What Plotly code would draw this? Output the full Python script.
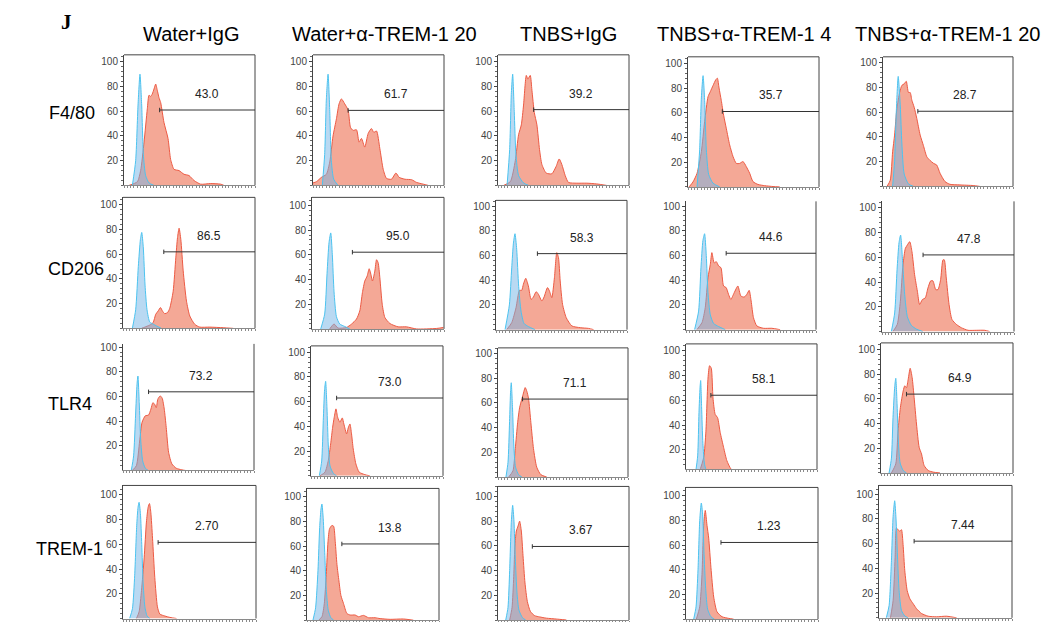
import plotly.graph_objects as go

# ---------------- data ----------------
columns = ["Water+IgG", "Water+α-TREM-1 20", "TNBS+IgG", "TNBS+α-TREM-1 4", "TNBS+α-TREM-1 20"]
markers = ["F4/80", "CD206", "TLR4", "TREM-1"]

# F4/80 row: isotype (blue) and stained (red) histograms, one list per column
f480_iso_x = [[6.4, 8.9, 10.7, 12.2, 13.5, 14.8, 16.5, 19.1, 22.9],
              [7.1, 8.9, 10.2, 11.5, 12.8, 14.0, 15.8, 19.1],
              [6.9, 8.9, 10.2, 11.2, 12.4, 13.7, 15.7, 19.5, 23.4],
              [6.9, 8.9, 10.2, 11.5, 12.7, 14.0, 15.8, 19.1, 24.2],
              [7.4, 8.9, 10.2, 11.7, 13.3, 14.5, 16.3, 19.6, 23.5]]
f480_iso_y = [[0, 20, 65, 90, 65, 25, 8, 2, 0],
              [0, 25, 70, 90, 60, 20, 5, 0],
              [0, 29, 75, 90, 60, 25, 8, 2, 0],
              [0, 30, 72, 90, 70, 30, 10, 3, 0],
              [0, 20, 60, 89, 65, 35, 10, 2, 0]]
f480_stain_x = [[3.8, 10.2, 12.7, 15.3, 17.8, 19.1, 20.4, 21.6, 22.9, 24.2, 25.4, 26.7, 28.0, 30.5, 33.6, 35.6, 38.2, 42.0, 45.8, 49.6, 53.4, 58.5, 66.2, 73.8, 76.3],
                [0, 2.6, 6.4, 10.2, 12.8, 15.3, 17.9, 19.9, 21.7, 24.2, 26.8, 28.6, 30.6, 33.2, 35.2, 37.0, 39.5, 42.1, 44.6, 46.4, 48.5, 51.0, 53.6, 56.1, 59.9, 63.3, 65.8, 70.2, 75.3, 79.1, 84.2, 88],
                [4.3, 9.4, 13.2, 15.7, 17.8, 19.5, 21.6, 22.8, 24.6, 25.9, 27.7, 29.7, 31.7, 33.5, 36.8, 41.1, 44.4, 46.7, 48.7, 51.3, 53.8, 60.2, 67.8, 75.4, 83],
                [0.8, 3.8, 6.9, 10.2, 12.7, 15.3, 17.0, 19.1, 21.1, 22.4, 23.7, 25.4, 27.2, 29.3, 31.8, 34.4, 36.9, 39.4, 42.0, 44.5, 47.1, 49.6, 53.4, 58.5, 64.9, 70],
                [3.1, 5.6, 7.4, 8.9, 10.7, 12.8, 14.5, 16.3, 17.9, 19.6, 20.9, 22.2, 24.0, 26.0, 28.6, 31.1, 33.7, 36.2, 38.8, 41.3, 43.9, 47.7, 51.5, 59.2, 69.4, 74.5]]
f480_stain_y = [[0, 3, 12, 35, 62, 73, 72, 74, 78, 82, 77, 71, 67, 51, 38, 21, 13, 12, 9, 8, 4, 1, 1.5, 1, 0],
                [2, 3, 6.5, 9, 19, 40, 54, 66, 70, 66, 61, 47, 44.5, 45, 35, 38, 31, 42, 46, 43, 44, 30, 13, 5.7, 5, 10, 6.5, 5, 4.6, 2.4, 1, 0],
                [0, 3, 20, 41, 49, 65, 89, 86, 89, 77, 59, 49, 29, 17, 10, 9.4, 15.4, 21.4, 17, 8, 2.4, 1.8, 1.8, 1.2, 0],
                [0, 4, 11, 28.5, 53, 73, 77, 82, 86.5, 88, 80, 70, 58, 47, 34, 24.5, 19, 19, 20.5, 16.4, 11, 4.3, 2, 1, 0.3, 0],
                [0, 5, 28, 41.5, 63, 76, 81.7, 83, 85, 76, 76, 69.7, 64, 55, 41.5, 33, 24, 21, 18.7, 17.3, 10.6, 3.9, 1.7, 1.2, 0.7, 0]]
f480_gate_x = [27.2, 26.8, 27.2, 26.2, 26.8]
f480_gate_y = [61.0, 60.7, 61.3, 61.0, 60.8]
f480_pct = ["43.0", "61.7", "39.2", "35.7", "28.7"]

# CD206 row
cd206_iso_x = [[7.1, 9.6, 11.6, 13.2, 14.2, 15.4, 16.7, 18.2, 20.3, 22.8, 25.3, 29.1],
               [6.6, 9.6, 11.4, 12.9, 14.2, 15.4, 16.7, 18.5, 21.0, 24.8, 28.6],
               [6.9, 10.2, 12.0, 13.3, 14.5, 15.8, 17.3, 19.1, 21.4, 24.7, 29.8],
               [6.6, 9.7, 11.5, 13.0, 14.3, 15.6, 16.9, 18.7, 21.2, 25.1, 30.2],
               [7.1, 9.6, 11.4, 12.9, 14.1, 15.7, 17.2, 19.2, 22.2, 26.0, 31.0]]
cd206_iso_y = [[0, 15, 50, 72, 77.6, 65, 35, 15, 5, 3.5, 2, 0],
               [0, 12, 45, 70, 77.7, 60, 30, 10, 4, 2, 0],
               [0, 20, 50, 70, 77.6, 65, 35, 15, 5, 2.5, 0],
               [0, 15, 50, 72, 77.6, 60, 30, 12, 5, 2.5, 0],
               [0, 15, 50, 72, 78, 55, 30, 12, 5, 2, 0]]
cd206_stain_x = [[14.0, 16.5, 20.3, 22.8, 24.8, 26.6, 28.4, 29.9, 31.6, 33.7, 35.4, 38.0, 40.0, 41.3, 42.5, 43.8, 45.6, 48.1, 50.6, 54.4, 58.2, 65.8, 75.9, 83.5],
                 [13.4, 16.7, 19.7, 26.1, 29.9, 33.7, 36.2, 38.2, 40.0, 41.8, 43.3, 44.6, 45.8, 47.6, 48.9, 50.1, 51.4, 53.2, 55.2, 59.0, 65.3, 71.6, 79.2, 94.4, 99.5],
                 [8.2, 12.0, 15.3, 17.9, 19.6, 20.9, 22.7, 24.7, 26.8, 28.6, 30.6, 32.4, 35.0, 36.7, 39.3, 40.8, 42.6, 44.6, 46.4, 47.7, 49.0, 50.8, 53.6, 57.9, 64.3, 70.7, 74.5],
                 [8.4, 12.3, 14.8, 16.9, 18.7, 19.9, 21.7, 23.3, 25.1, 26.9, 28.9, 30.9, 32.7, 34.5, 37.1, 39.9, 42.2, 44.8, 46.8, 48.6, 50.1, 51.9, 54.5, 59.6, 66.0, 72.4],
                 [8.3, 11.6, 13.9, 15.9, 17.7, 19.2, 21.0, 22.7, 24.7, 26.8, 28.5, 30.6, 32.8, 34.8, 36.9, 38.6, 40.7, 42.4, 44.4, 46.2, 47.2, 48.7, 50.8, 53.0, 56.3, 60.1, 65.2, 71.5, 77.8, 81.6]]
cd206_stain_y = [[0, 1, 2.7, 4.6, 11.4, 14, 16.8, 14, 11.9, 12.7, 16.2, 30, 57, 73.5, 81, 72, 46.5, 22, 10, 3.2, 1, 1, 0.5, 0],
                 [0, 4, 0.7, 1.2, 3.9, 8, 14.6, 29.4, 38.8, 42.8, 48.7, 44.2, 38.8, 46.8, 56, 53.6, 41.5, 20, 9.3, 4.4, 1.7, 1.7, 0, 0.4, 1.2],
                 [0, 5.7, 17.8, 31.8, 31.8, 36.7, 41.5, 35.3, 24.5, 26.4, 30.7, 28.6, 23.2, 26.4, 34, 31.3, 25.9, 42, 62.3, 58.2, 39.4, 20.5, 9.7, 3, 1.6, 1, 0],
                 [0, 5.7, 17.8, 42, 52.8, 62.3, 54, 55, 51.5, 50.1, 35.3, 34, 28.6, 24.5, 29.9, 35.3, 27.2, 26.4, 28.6, 31.8, 23.2, 9.7, 3, 1.1, 1.1, 0],
                 [0, 5.8, 24.5, 54, 67.3, 70, 72.7, 64.6, 46, 32.6, 21.9, 25.9, 27.2, 35.2, 41, 41, 33.9, 33.9, 41.9, 58, 58, 43.3, 21.9, 9.8, 5.8, 3.1, 1, 1, 1, 0]]
cd206_gate_x = [30.9, 30.6, 31.6, 30.9, 31.1]
cd206_gate_y = [61.9, 62.1, 61.5, 61.8, 62.0]
cd206_pct = ["86.5", "95.0", "58.3", "44.6", "47.8"]

# TLR4 row
tlr4_iso_x = [[6.3, 8.1, 9.6, 10.7, 11.4, 12.4, 13.5, 15.0, 17.0, 19.5],
              [6.3, 8.1, 9.3, 10.3, 11.1, 12.1, 13.1, 14.4, 16.9, 19.4],
              [6.1, 7.7, 8.9, 9.7, 10.2, 11.2, 12.2, 13.5, 15.8, 18.4],
              [7.1, 8.9, 9.9, 10.7, 11.2, 11.9, 12.9, 14.2, 16.0, 18.5],
              [6.1, 7.9, 9.1, 10.4, 11.2, 12.2, 13.2, 14.5, 16.8, 19.3]]
tlr4_iso_y = [[0, 12, 45, 70, 76.6, 55, 25, 8, 2, 0],
              [0, 12, 45, 70, 76.5, 55, 25, 8, 2, 0],
              [0, 12, 45, 70, 76.3, 55, 25, 8, 2, 0],
              [0, 15, 50, 70, 76, 55, 25, 8, 2, 0],
              [0, 12, 45, 70, 76.6, 55, 25, 8, 2, 0]]
tlr4_stain_x = [[6.9, 10.2, 12.7, 14.5, 17.0, 19.5, 21.3, 22.8, 24.1, 25.4, 26.6, 28.4, 29.9, 31.5, 33.0, 34.8, 37.3, 40.6, 44.9, 48.7],
                [6.8, 10.6, 13.1, 14.9, 16.4, 17.6, 18.9, 20.2, 21.9, 23.7, 24.9, 27.0, 28.2, 29.5, 30.7, 32.0, 34.0, 36.5, 40.8, 44.6],
                [8.2, 11.5, 13.3, 15.1, 16.6, 18.4, 19.6, 20.9, 22.2, 23.5, 25.3, 27.3, 29.8, 32.9, 37.5],
                [9.6, 13.5, 15.2, 16.8, 18.0, 19.3, 20.6, 22.3, 24.1, 26.1, 28.7, 31.2, 34.3, 37.6, 41.4],
                [7.9, 11.2, 12.9, 14.7, 16.8, 18.0, 19.3, 20.6, 22.1, 23.6, 25.1, 26.9, 28.9, 30.7, 32.7, 35.8, 39.6, 44.7]]
tlr4_stain_y = [[0, 4, 24, 39, 44.4, 45, 49.8, 55, 53.8, 51, 57.9, 60.5, 58.7, 49.8, 35, 14.9, 5.5, 2, 0.7, 0],
                [0, 3, 12.4, 25.9, 39.4, 47.4, 54.2, 47.4, 43.4, 46.9, 42, 34, 38.8, 42, 34, 21.8, 9.7, 3, 1, 0],
                [0, 5, 23, 44, 56, 63.4, 68, 72.4, 69.4, 63.4, 44, 23, 8, 2, 0],
                [0, 13.8, 35, 78, 88, 86, 62, 48.6, 46, 34, 21.9, 11.2, 4.5, 1.8, 0],
                [0, 7.4, 34, 53, 66.4, 70.5, 69, 75.8, 84.7, 77.2, 61, 39.6, 20.8, 15.4, 6, 2, 0.7, 0]]
tlr4_gate_x = [19.5, 19.4, 18.9, 19.0, 19.3]
tlr4_gate_y = [63.8, 63.0, 63.1, 64.1, 63.8]
tlr4_pct = ["73.2", "73.0", "71.1", "58.1", "64.9"]

# TREM-1 row
trem1_iso_x = [[5.0, 7.1, 8.8, 10.3, 11.3, 12.1, 13.1, 14.1, 15.1, 16.4, 18.1, 20.2],
               [4.5, 6.5, 8.3, 9.6, 10.6, 11.3, 12.3, 13.4, 14.6, 16.1, 18.1, 20.2],
               [5.9, 7.6, 8.9, 10.2, 11.2, 12.2, 13.2, 14.5, 16.0, 18.6, 21.1],
               [5.8, 7.6, 9.1, 10.4, 11.6, 12.6, 13.6, 14.9, 16.4, 18.9, 21.5],
               [5.5, 7.6, 9.3, 10.6, 11.8, 12.8, 13.9, 15.1, 16.9, 19.4, 21.9]]
trem1_iso_y = [[0, 8, 35, 75, 90, 94, 85, 60, 30, 10, 2, 0],
               [0, 10, 40, 75, 90, 94, 82, 55, 25, 8, 2, 0],
               [0, 10, 40, 80, 92.8, 80, 50, 22, 8, 2, 0],
               [0, 10, 40, 80, 94, 85, 55, 25, 8, 2, 0],
               [0, 10, 45, 82, 94.7, 80, 50, 22, 6, 1.5, 0]]
trem1_stain_x = [[10.1, 12.1, 13.9, 15.9, 17.6, 18.9, 19.9, 20.9, 22.2, 23.9, 25.9, 27.7, 31.5, 35.3, 40.3],
                 [8.8, 11.3, 13.1, 14.6, 15.9, 17.1, 18.9, 20.2, 21.4, 22.7, 24.2, 25.7, 27.7, 30.2, 32.7, 36.5, 39.0, 42.8, 46.6, 51.6, 55.4, 63.0, 73.0, 80.6],
                 [8.9, 10.7, 12.0, 13.0, 14.0, 15.3, 16.5, 17.8, 19.1, 20.6, 22.4, 24.7, 28.0, 31.8, 36.9, 44.5, 52.2],
                 [7.8, 10.4, 12.1, 13.4, 14.6, 15.9, 17.2, 18.9, 21.0, 23.5, 27.3, 32.3, 36.1],
                 [8.6, 10.6, 12.1, 13.1, 14.4, 15.6, 16.9, 18.1, 19.4, 21.2, 23.2, 25.7, 28.2, 32.0, 37.0, 43.3, 50.9, 58.4]]
trem1_stain_y = [[0, 5.4, 22.6, 49, 78, 90, 93, 86, 65, 33.2, 9.4, 3.6, 2, 0.9, 0],
                 [0, 2.8, 13.4, 37, 63.5, 74, 76.7, 76, 63.5, 45, 31.8, 20, 13.4, 5.5, 4.2, 4.2, 2.8, 3.9, 2, 2, 1.3, 0.7, 1, 0],
                 [0, 10, 35, 62, 72, 76, 80, 72, 52, 30, 15, 7, 3.5, 2.5, 1.5, 0.8, 0],
                 [0, 10, 36, 76, 88, 76, 65.6, 41.7, 17.9, 6, 2, 0.7, 0],
                 [0, 14, 48.7, 72.6, 71.3, 70, 71.3, 59.3, 38, 22, 15.4, 11.4, 7.4, 3.5, 1.3, 0.8, 1.3, 0]]
trem1_gate_x = [26.4, 26.4, 26.2, 26.5, 26.4]
trem1_gate_y = [61.6, 61.7, 59.5, 62.1, 62.0]
trem1_pct = ["2.70", "13.8", "3.67", "1.23", "7.44"]

y_tick_vals = [20, 40, 60, 80, 100]
y_tick_text = ["20", "40", "60", "80", "100"]

rows = [
    (f480_iso_x, f480_iso_y, f480_stain_x, f480_stain_y, f480_gate_x, f480_gate_y, f480_pct),
    (cd206_iso_x, cd206_iso_y, cd206_stain_x, cd206_stain_y, cd206_gate_x, cd206_gate_y, cd206_pct),
    (tlr4_iso_x, tlr4_iso_y, tlr4_stain_x, tlr4_stain_y, tlr4_gate_x, tlr4_gate_y, tlr4_pct),
    (trem1_iso_x, trem1_iso_y, trem1_stain_x, trem1_stain_y, trem1_gate_x, trem1_gate_y, trem1_pct),
]

# ---------------- layout geometry (pixels) ----------------
W, H = 1054, 622
PPU = 1.24  # pixels per % of max
# (left, right, top, zero-level, bottom, has_top_border)
panel_geom = [
    [(124, 255, 53, 184, 184, True), (313, 444, 53, 184, 184, True), (498, 629, 53, 184, 184, True),
     (688, 819, 55, 185.5, 185.5, True), (883, 1013, 55, 185, 185, True)],
    [(123, 255, 196, 327.4, 327.4, True), (312, 444, 196, 328, 328, True), (496, 627, 199, 328.7, 328.7, True),
     (686, 816, 200, 328.7, 328.7, False), (882, 1014, 200, 330.6, 330.6, False)],
    [(123, 254, 343, 470.2, 469.5, False), (311, 443, 345, 475.4, 475.4, True), (498, 628, 347, 476.6, 476.6, True),
     (686, 817, 343, 474, 469, True), (881, 1013, 342, 472.5, 472.5, True)],
    [(123, 256, 485, 618.5, 618.5, True), (307, 439, 488, 620.2, 620.2, True), (498, 629, 486, 620, 620, True),
     (686, 818, 487, 619.2, 619.2, True), (879, 1012, 485, 617.8, 617.8, True)],
]
col_title_x = [191, 384, 568, 744, 948]
col_title_y = 32
row_label_pos = [(72, 111), (76, 268), (70, 403), (69, 549)]

RED_FILL = "#f4a896"
RED_LINE = "#ec5a44"
BLUE_FILL = "rgba(115,180,230,0.5)"
BLUE_LINE = "#4cc3ef"
FONT = "Arial, Liberation Sans, sans-serif"

fig = go.Figure()
shapes = []
annotations = []
layout_axes = {}

idx = 0
for r, (isx, isy, stx, sty, gx, gy, pct) in enumerate(rows):
    for c in range(5):
        idx += 1
        xa = "x" if idx == 1 else f"x{idx}"
        ya = "y" if idx == 1 else f"y{idx}"
        left, right, top, y0, bottom, has_top = panel_geom[r][c]
        fig.add_trace(go.Scatter(x=stx[c], y=sty[c], xaxis=xa, yaxis=ya, mode="lines",
                                 line=dict(color=RED_LINE, width=1, shape="spline", smoothing=0.6),
                                 fill="tozeroy", fillcolor=RED_FILL, showlegend=False, hoverinfo="skip"))
        fig.add_trace(go.Scatter(x=isx[c], y=isy[c], xaxis=xa, yaxis=ya, mode="lines",
                                 line=dict(color=BLUE_LINE, width=1, shape="spline", smoothing=0.6),
                                 fill="tozeroy", fillcolor=BLUE_FILL, showlegend=False, hoverinfo="skip"))
        ymin = (y0 - bottom) / PPU
        ymax = (y0 - top) / PPU
        layout_axes["xaxis" if idx == 1 else f"xaxis{idx}"] = dict(
            domain=[left / W, right / W], anchor=ya, range=[0, 100],
            showgrid=False, zeroline=False, showline=True, linecolor="#8a8a8a", linewidth=1,
            ticks="outside", ticklen=2, tickcolor="#8a8a8a", dtick=2.5, showticklabels=False,
        )
        layout_axes["yaxis" if idx == 1 else f"yaxis{idx}"] = dict(
            domain=[1 - bottom / H, 1 - top / H], anchor=xa, range=[ymin, ymax],
            showgrid=False, zeroline=False, showline=True, linecolor="#444", linewidth=1,
            ticks="outside", ticklen=3, tickcolor="#444", tickvals=y_tick_vals, ticktext=y_tick_text,
            tickfont=dict(family=FONT, size=10, color="#444"),
            minor=dict(dtick=4, tick0=0, ticks="outside", ticklen=2, tickcolor="#666"),
        )
        # frame: right (and top) border
        shapes.append(dict(type="line", xref=f"{xa} domain", yref=f"{ya} domain",
                           x0=1, x1=1, y0=0, y1=1, line=dict(color="#444", width=1)))
        if has_top:
            shapes.append(dict(type="line", xref=f"{xa} domain", yref=f"{ya} domain",
                               x0=0, x1=1, y0=1, y1=1, line=dict(color="#444", width=1)))
        # gate
        shapes.append(dict(type="line", xref=xa, yref=ya, x0=gx[c], x1=100, y0=gy[c], y1=gy[c],
                           line=dict(color="#333", width=1)))
        shapes.append(dict(type="line", xref=xa, yref=ya, x0=gx[c], x1=gx[c], y0=gy[c] - 1.8, y1=gy[c] + 1.8,
                           line=dict(color="#333", width=1)))
        annotations.append(dict(xref=xa, yref=ya, x=(gx[c] + 100) / 2, y=gy[c] + 13, text=pct[c],
                                showarrow=False, xanchor="center", yanchor="middle",
                                font=dict(family=FONT, size=12, color="#222")))

for c, t in enumerate(columns):
    annotations.append(dict(xref="paper", yref="paper", x=col_title_x[c] / W, y=1 - col_title_y / H,
                            text=t, showarrow=False, xanchor="center", yanchor="middle",
                            font=dict(family=FONT, size=20, color="#000")))
for r, m in enumerate(markers):
    px_, py_ = row_label_pos[r]
    annotations.append(dict(xref="paper", yref="paper", x=px_ / W, y=1 - py_ / H,
                            text=m, showarrow=False, xanchor="center", yanchor="middle",
                            font=dict(family=FONT, size=18, color="#000")))
annotations.append(dict(xref="paper", yref="paper", x=66 / W, y=1 - 20 / H, text="<b>J</b>",
                        showarrow=False, xanchor="center", yanchor="middle",
                        font=dict(family="Liberation Serif, Times New Roman, serif", size=21, color="#000")))

fig.update_layout(width=W, height=H, margin=dict(l=0, r=0, t=0, b=0),
                  paper_bgcolor="white", plot_bgcolor="white",
                  shapes=shapes, annotations=annotations, **layout_axes)

fig.write_html("out.html")
